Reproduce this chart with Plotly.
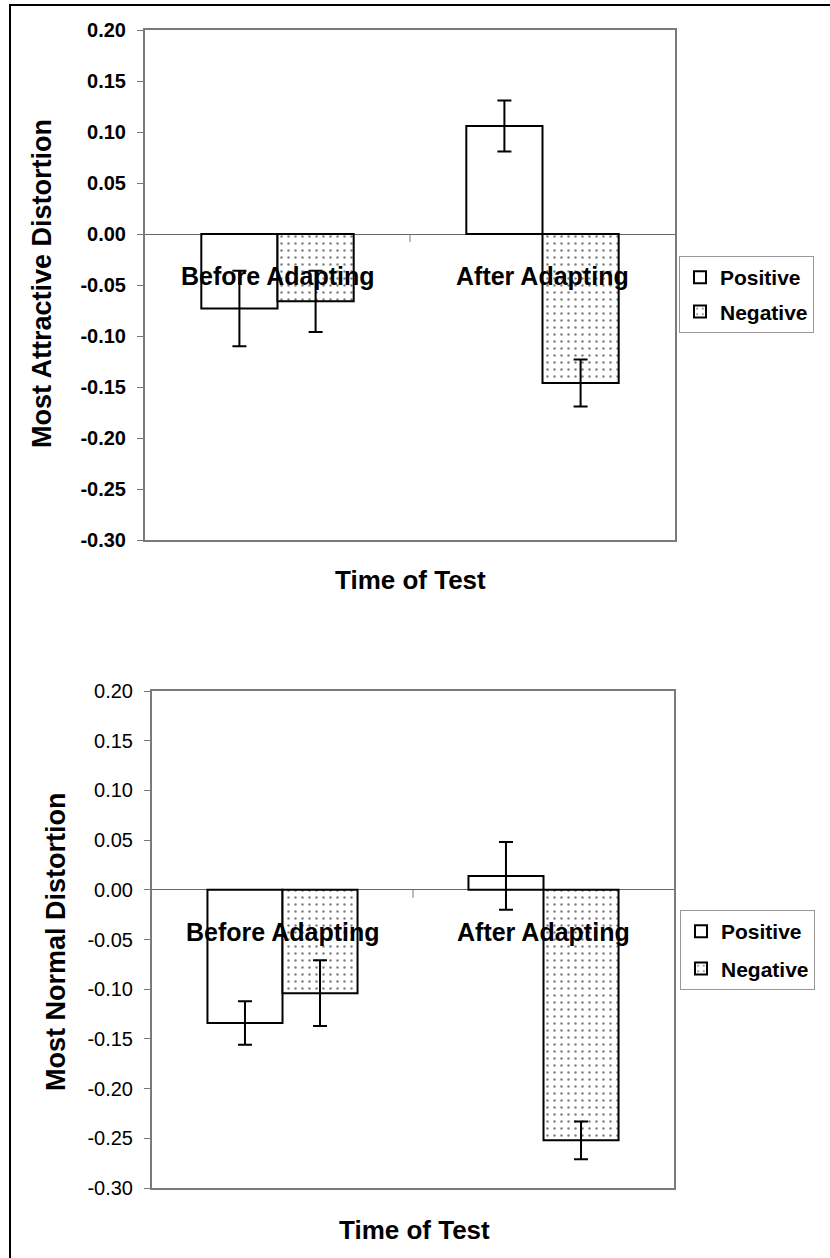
import plotly.graph_objects as go

# ---------------- data ----------------
categories = ["Before Adapting", "After Adapting"]
series_names = ["Positive", "Negative"]

attractive_positive = [-0.073, 0.106]
attractive_positive_err = [0.037, 0.025]
attractive_negative = [-0.066, -0.146]
attractive_negative_err = [0.030, 0.023]

normal_positive = [-0.134, 0.014]
normal_positive_err = [0.022, 0.034]
normal_negative = [-0.104, -0.252]
normal_negative_err = [0.033, 0.019]

y_tick_values = [0.20, 0.15, 0.10, 0.05, 0.00, -0.05, -0.10, -0.15, -0.20, -0.25, -0.30]
y_tick_labels = ["0.20", "0.15", "0.10", "0.05", "0.00", "-0.05", "-0.10", "-0.15", "-0.20", "-0.25", "-0.30"]

y_title_top = "Most Attractive Distortion"
y_title_bottom = "Most Normal Distortion"
x_title = "Time of Test"

# ---------------- style ----------------
FONT = "Liberation Sans, Arial, Helvetica, sans-serif"
W, H = 830, 1258


def px_x(p):
    return p / W


def px_y(p):
    return 1 - p / H


fig = go.Figure()


def add_pair(pos, pos_err, neg, neg_err, xa, ya, legend):
    fig.add_trace(go.Bar(
        x=categories, y=pos, name=series_names[0], xaxis=xa, yaxis=ya,
        legend=legend, legendgroup=legend + "p",
        marker=dict(color="white", line=dict(color="black", width=2)),
        error_y=dict(type="data", array=pos_err, visible=True,
                     color="black", thickness=2, width=7),
    ))
    fig.add_trace(go.Bar(
        x=categories, y=neg, name=series_names[1], xaxis=xa, yaxis=ya,
        legend=legend, legendgroup=legend + "n",
        marker=dict(color="white", line=dict(color="black", width=2),
                    pattern=dict(shape=".", fgcolor="black", bgcolor="white",
                                 size=7, solidity=0.1)),
        error_y=dict(type="data", array=neg_err, visible=True,
                     color="black", thickness=2, width=7),
    ))


add_pair(attractive_positive, attractive_positive_err,
         attractive_negative, attractive_negative_err, "x", "y", "legend")
add_pair(normal_positive, normal_positive_err,
         normal_negative, normal_negative_err, "x2", "y2", "legend2")

border = "#7a7a7a"

xaxis_common = dict(type="category", range=[-0.5, 1.5], showticklabels=False,
                    showline=True, mirror=True, linecolor=border, linewidth=2,
                    ticks="", showgrid=False, zeroline=False, fixedrange=True,
                    automargin=False)


def yaxis_common(bold):
    return dict(range=[-0.30, 0.20], tickvals=y_tick_values, ticktext=y_tick_labels,
                showline=True, mirror=True, linecolor=border, linewidth=2,
                ticks="outside", ticklen=6, tickcolor="#777", tickwidth=1,
                ticklabelstandoff=7, automargin=False, fixedrange=True,
                showgrid=False, zeroline=True, zerolinecolor="#666", zerolinewidth=1,
                tickfont=dict(family=FONT, size=20, color="black",
                              weight="bold" if bold else "normal"))


fig.update_layout(
    width=W, height=H,
    margin=dict(l=0, r=0, t=0, b=0, pad=0, autoexpand=False),
    paper_bgcolor="white", plot_bgcolor="white",
    barmode="group", bargap=0.425, bargroupgap=0,
    showlegend=True,
    xaxis=dict(domain=[px_x(145), px_x(675)], anchor="y", **xaxis_common),
    yaxis=dict(domain=[px_y(540), px_y(30)], anchor="x", **yaxis_common(True)),
    xaxis2=dict(domain=[px_x(152), px_x(674)], anchor="y2", **xaxis_common),
    yaxis2=dict(domain=[px_y(1188), px_y(691)], anchor="x2", **yaxis_common(False)),
    legend=dict(x=px_x(679), y=px_y(256), xanchor="left", yanchor="top",
                bordercolor="#999", borderwidth=1, bgcolor="white",
                traceorder="grouped", tracegroupgap=4,
                font=dict(family=FONT, size=21, color="black", weight="bold")),
    legend2=dict(x=px_x(680), y=px_y(910), xanchor="left", yanchor="top",
                 bordercolor="#999", borderwidth=1, bgcolor="white",
                 traceorder="grouped", tracegroupgap=7,
                 font=dict(family=FONT, size=21, color="black", weight="bold")),
)

annotations = []
ytitle_font = dict(family=FONT, size=27, color="black", weight="bold")
xtitle_font = dict(family=FONT, size=26, color="black", weight="bold")

# y-axis titles
annotations.append(dict(text=y_title_top, xref="paper", yref="paper",
                        x=px_x(42), y=px_y(284), textangle=-90, showarrow=False,
                        xanchor="center", yanchor="middle", font=ytitle_font))
annotations.append(dict(text=y_title_bottom, xref="paper", yref="paper",
                        x=px_x(56), y=px_y(942), textangle=-90, showarrow=False,
                        xanchor="center", yanchor="middle", font=ytitle_font))
# x-axis titles
annotations.append(dict(text=x_title, xref="paper", yref="paper",
                        x=px_x(410), y=px_y(580), showarrow=False,
                        xanchor="center", yanchor="middle", font=xtitle_font))
annotations.append(dict(text=x_title, xref="paper", yref="paper",
                        x=px_x(414), y=px_y(1230), showarrow=False,
                        xanchor="center", yanchor="middle", font=xtitle_font))
# category labels placed just below the zero line (axis crossing)
for xa, ya in (("x", "y"), ("x2", "y2")):
    for c in categories:
        annotations.append(dict(text=c, xref=xa, yref=ya, x=c, y=0, yshift=-42,
                                showarrow=False, xanchor="center", yanchor="middle",
                                font=dict(family=FONT, size=25, color="black",
                                          weight="bold")))
fig.update_layout(annotations=annotations)

shapes = []
# outer frame (left and top edges visible)
shapes.append(dict(type="rect", xref="paper", yref="paper",
                   x0=px_x(10), x1=1.02, y0=-0.02, y1=px_y(5),
                   line=dict(color="black", width=2), fillcolor="rgba(0,0,0,0)",
                   layer="above"))
# category-boundary tick marks on the zero line
for xa, ya in (("x", "y"), ("x2", "y2")):
    shapes.append(dict(type="line", xref=xa, yref=ya, x0=0.5, x1=0.5,
                       ysizemode="pixel", yanchor=0, y0=0, y1=-8,
                       line=dict(color="#777", width=1)))
fig.update_layout(shapes=shapes)

fig.write_html("out.html",
               config={"displayModeBar": False},
               post_script="document.body.style.margin='0';document.body.style.overflow='hidden';")
